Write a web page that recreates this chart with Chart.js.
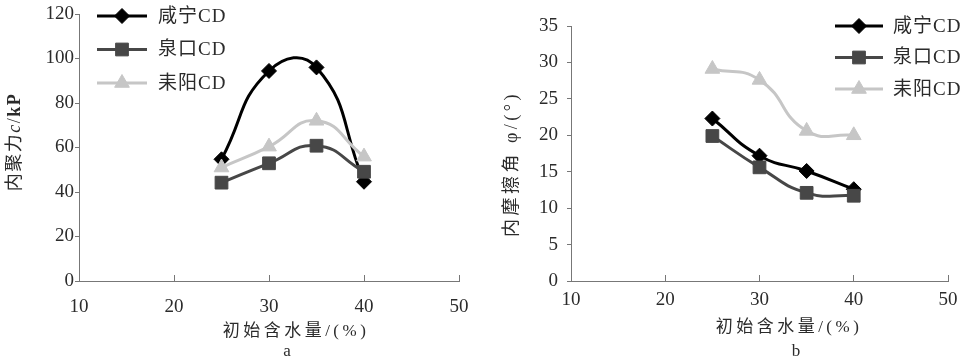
<!DOCTYPE html>
<html>
<head>
<meta charset="utf-8">
<script src="https://cdn.jsdelivr.net/npm/chart.js@4.4.1/dist/chart.umd.min.js"></script>
<style>
  html, body { margin: 0; padding: 0; background: #fff; }
  .panel { position: absolute; top: 0; width: 480px; height: 361px; }
  #panelA { left: 0; }
  #panelB { left: 485px; }
</style>
</head>
<body>
<div class="panel" id="panelA"><canvas id="chartA" width="480" height="361"></canvas></div>
<div class="panel" id="panelB"><canvas id="chartB" width="480" height="361"></canvas></div>
<script>
// 初始含水量 (%)
const moisture = [25, 30, 35, 40];
const seriesNames = ['咸宁CD', '泉口CD', '耒阳CD'];

// a: 内聚力 c
const cohesionXianning = [54.7, 94.4, 96.0, 44.6];
const cohesionQuankou  = [44.2, 52.9, 60.8, 49.1];
const cohesionLeiyang  = [51.0, 60.4, 72.0, 55.9];

// b: 内摩擦角 φ
const frictionXianning = [22.3, 17.2, 15.1, 12.6];
const frictionQuankou  = [19.9, 15.6, 12.1, 11.7];
const frictionLeiyang  = [29.1, 27.6, 20.6, 20.0];

// tick labels
const xTicks = [10, 20, 30, 40, 50];
const cohesionTicks = [0, 20, 40, 60, 80, 100, 120];
const frictionTicks = [0, 5, 10, 15, 20, 25, 30, 35];

const FONT = '"Liberation Serif", "Noto Sans CJK SC", serif';
const TEXT = '#2b2b2b';
const AXIS = '#777';

// series look: black diamond, dark grey square, light grey triangle
const seriesColors = ['#000000', '#474747', '#c6c6c6'];
const seriesPoints = ['rectRot', 'rect', 'triangle'];
const seriesRadius = [7.5, 9, 8.5];

function makeDatasets(valueLists) {
  return valueLists.map((vals, i) => ({
    label: seriesNames[i],
    data: moisture.map((x, k) => ({ x: x, y: vals[k] })),
    borderColor: seriesColors[i],
    backgroundColor: seriesColors[i],
    borderWidth: 3,
    tension: 0.5,
    pointStyle: seriesPoints[i],
    pointRadius: seriesRadius[i],
    pointBorderWidth: 1,
    order: 3 - i   // later series drawn on top, like the original
  }));
}

// legend: line sample with marker in its middle
const lineLegend = {
  id: 'lineLegend',
  afterDraw(chart, args, o) {
    const ctx = chart.ctx;
    ctx.save();
    chart.data.datasets.forEach((ds, i) => {
      const y = o.top + i * o.rowGap;
      ctx.strokeStyle = ds.borderColor;
      ctx.lineWidth = ds.borderWidth;
      ctx.beginPath();
      ctx.moveTo(o.left, y);
      ctx.lineTo(o.left + o.lineLength, y);
      ctx.stroke();
      ctx.fillStyle = ds.backgroundColor;
      ctx.lineWidth = 1;
      Chart.helpers.drawPoint(ctx, { pointStyle: ds.pointStyle, radius: ds.pointRadius, borderWidth: 1, rotation: 0 },
        o.left + o.lineLength / 2, y);
      ctx.fillStyle = TEXT;
      ctx.font = '19px ' + FONT;
      ctx.letterSpacing = '1px';
      ctx.textAlign = 'left';
      ctx.textBaseline = 'middle';
      ctx.fillText(ds.label, o.textX, y + 1);
    });
    ctx.restore();
  }
};

// draw text made of runs with different font styles, centred on (0,0)
function drawRuns(ctx, runs, spacing, size) {
  ctx.letterSpacing = spacing + 'px';
  let total = 0;
  runs.forEach(r => {
    ctx.font = (r.style || '') + ' ' + size + 'px ' + FONT;
    r.w = ctx.measureText(r.text).width;
    total += r.w;
  });
  let x = -total / 2;
  ctx.textAlign = 'left';
  ctx.textBaseline = 'middle';
  runs.forEach(r => {
    ctx.font = (r.style || '') + ' ' + size + 'px ' + FONT;
    ctx.fillText(r.text, x, 0);
    x += r.w;
  });
}

const axisText = {
  id: 'axisText',
  afterDraw(chart, args, o) {
    const ctx = chart.ctx;
    ctx.save();
    ctx.fillStyle = TEXT;
    ctx.save();
    ctx.translate(o.yTitle.x, o.yTitle.y);
    ctx.rotate(-Math.PI / 2);
    drawRuns(ctx, o.yTitle.runs, o.yTitle.spacing, 18);
    ctx.restore();
    ctx.save();
    ctx.translate(o.xTitle.x, o.xTitle.y);
    drawRuns(ctx, [{ text: '初始含水量/(%)' }], 3.5, 17);
    ctx.restore();
    ctx.save();
    ctx.translate(o.caption.x, o.caption.y);
    drawRuns(ctx, [{ text: o.caption.text }], 0, 17);
    ctx.restore();
    ctx.restore();
  }
};

function makeChart(id, datasets, yTicks, p) {
  const ctx = document.getElementById(id).getContext('2d');
  return new Chart(ctx, {
    type: 'line',
    data: { datasets: datasets },
    plugins: [lineLegend, axisText],
    options: {
      responsive: false,
      animation: false,
      events: [],
      layout: { padding: { left: 0, top: p.padTop, right: p.padRight, bottom: 0 } },
      plugins: {
        legend: { display: false },
        tooltip: { enabled: false },
        lineLegend: p.legend,
        axisText: { yTitle: p.yTitle, xTitle: p.xTitle, caption: p.caption }
      },
      scales: {
        x: {
          type: 'linear',
          min: xTicks[0],
          max: xTicks[xTicks.length - 1],
          afterBuildTicks: s => { s.ticks = xTicks.map(v => ({ value: v })); },
          afterFit: s => { s.height = 80; s.paddingLeft = 0; s.paddingRight = 0; },
          ticks: { font: { family: FONT, size: 19 }, color: TEXT, padding: p.xTickPad, maxRotation: 0 },
          grid: { drawOnChartArea: false, tickLength: -6, color: AXIS },
          border: { color: AXIS, width: 1 }
        },
        y: {
          min: yTicks[0],
          max: yTicks[yTicks.length - 1],
          afterBuildTicks: s => { s.ticks = yTicks.map(v => ({ value: v })); },
          afterFit: s => { s.width = p.yWidth; },
          ticks: { font: { family: FONT, size: 19 }, color: TEXT, padding: p.yTickPad },
          grid: { drawOnChartArea: false, tickLength: 4, color: AXIS },
          border: { color: AXIS, width: 1 }
        }
      }
    }
  });
}

makeChart('chartA', makeDatasets([cohesionXianning, cohesionQuankou, cohesionLeiyang]), cohesionTicks, {
  padTop: 14, padRight: 21, yWidth: 79, yTickPad: 1, xTickPad: 20.5,
  legend: { left: 97, top: 16, rowGap: 33.5, lineLength: 50, textX: 158 },
  yTitle: { x: 15, y: 142, spacing: 1.5, runs: [{ text: '内聚力' }, { text: 'c', style: 'italic' }, { text: '/' }, { text: 'kP', style: 'bold' }] },
  xTitle: { x: 296, y: 332 },
  caption: { x: 287, y: 352, text: 'a' }
});

makeChart('chartB', makeDatasets([frictionXianning, frictionQuankou, frictionLeiyang]), frictionTicks, {
  padTop: 26, padRight: 17, yWidth: 86, yTickPad: 9, xTickPad: 14,
  legend: { left: 350, top: 26, rowGap: 31.5, lineLength: 48, textX: 408 },
  yTitle: { x: 27, y: 164, spacing: 3.5, runs: [{ text: '内摩擦角 φ/(°)' }] },
  xTitle: { x: 304, y: 328 },
  caption: { x: 311, y: 352, text: 'b' }
});
</script>
</body>
</html>
